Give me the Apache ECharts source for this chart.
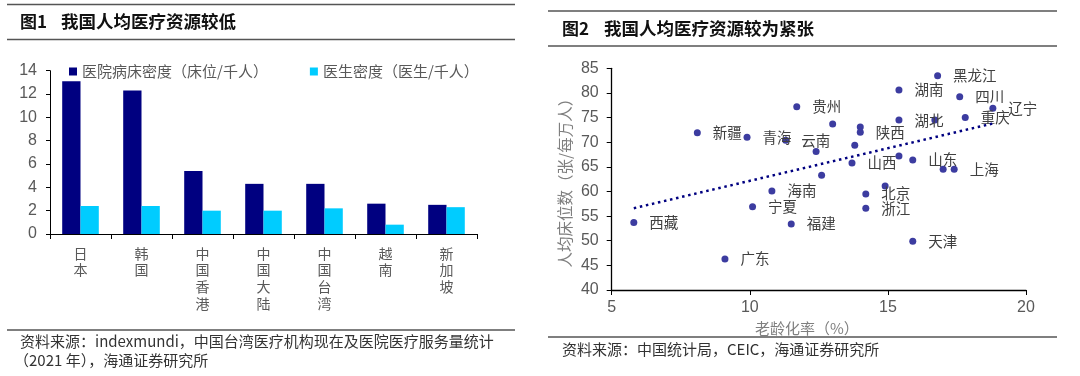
<!DOCTYPE html>
<html>
<head>
<meta charset="utf-8">
<script src="https://cdn.jsdelivr.net/npm/echarts@6/dist/echarts.min.js"></script>
<style>
html,body{margin:0;padding:0;background:#fff;}
#main{width:1080px;height:376px;}
</style>
</head>
<body>
<div id="main"></div>
<script>
// 图1 数据
var countries = ['日本', '韩国', '中国香港', '中国大陆', '中国台湾', '越南', '新加坡'];
var bedDensity = [13.1, 12.3, 5.4, 4.3, 4.3, 2.6, 2.5];     // 床位/千人
var doctorDensity = [2.4, 2.4, 2.0, 2.0, 2.2, 0.8, 2.3];    // 医生/千人

// 图2 数据（空名称的点不标注）
var provinces = ['西藏', '新疆', '青海', '云南', '贵州', '', '', '陕西', '', '', '山西', '', '海南', '宁夏', '福建', '广东',
  '北京', '浙江', '黑龙江', '湖南', '四川', '辽宁', '湖北', '', '重庆', '', '山东', '', '上海', '', '天津'];
var agingRate = [5.8, 8.1, 9.9, 11.3, 11.7, 13.0, 14.0, 14.0, 13.8, 12.4, 13.7, 12.6, 10.8, 10.1, 11.5, 9.1,
  14.2, 14.2, 16.8, 15.4, 17.6, 18.8, 15.4, 16.7, 17.8, 15.4, 15.9, 17.0, 17.4, 14.9, 15.9];
var bedsPer10k = [53.7, 71.9, 71.0, 70.4, 77.2, 73.7, 73.1, 72.0, 69.4, 68.1, 65.8, 63.3, 60.1, 56.9, 53.4, 46.3,
  59.5, 56.6, 83.5, 80.6, 79.2, 76.9, 74.5, 74.5, 75.0, 67.2, 66.4, 64.5, 64.5, 61.1, 49.9];
// 趋势线两端
var trendX = [5.8, 18.8];
var trendY = [56.6, 73.8];

var cjk = '"Noto Sans CJK SC", sans-serif';
var num = '"Liberation Sans", Arial, sans-serif';
var gray = '#595959';

var scatterData = [];
provinces.forEach(function(p, i){
  scatterData.push({name: p, value: [agingRate[i], bedsPer10k[i]]});
});
var trendData = [];
trendX.forEach(function(x, i){ trendData.push([x, trendY[i]]); });

var myChart = echarts.init(document.getElementById('main'), null, {renderer: 'canvas'});
var option = {
  animation: false,
  backgroundColor: '#fff',
  legend: {
    left: 64, top: 59,
    itemWidth: 8, itemHeight: 8, itemGap: 42,
    icon: 'rect',
    textStyle: {fontFamily: cjk, fontSize: 15, color: gray},
    data: ['医院病床密度（床位/千人）', '医生密度（医生/千人）']
  },
  grid: [
    {left: 50, right: 603, top: 70.7, bottom: 142},
    {left: 611.7, right: 54, top: 68.3, bottom: 86}
  ],
  xAxis: [
    {
      gridIndex: 0, type: 'category', data: countries,
      axisLine: {lineStyle: {color: '#000', width: 1}},
      axisTick: {show: true, length: 5, lineStyle: {color: '#000'}},
      axisLabel: {
        margin: 11, fontFamily: cjk, fontSize: 14, color: gray, lineHeight: 16.7,
        formatter: function(v){ return v.split('').join('\n'); }
      }
    },
    {
      gridIndex: 1, type: 'value', min: 5, max: 20, interval: 5,
      name: '老龄化率（%）', nameLocation: 'middle', nameGap: 23,
      nameTextStyle: {fontFamily: cjk, fontSize: 15, color: '#7f7f7f', padding: [0, 24, 0, 0]},
      splitLine: {show: false},
      axisLine: {show: true, lineStyle: {color: '#000', width: 1.3}},
      axisTick: {show: true, length: 5, lineStyle: {color: '#000'}},
      axisLabel: {margin: 10, fontFamily: num, fontSize: 16, color: gray}
    }
  ],
  yAxis: [
    {
      gridIndex: 0, type: 'value', min: 0, max: 14, interval: 2,
      splitLine: {show: false},
      axisLine: {show: true, lineStyle: {color: '#000', width: 1}},
      axisTick: {show: true, length: 4, lineStyle: {color: '#000'}},
      axisLabel: {margin: 13, fontFamily: num, fontSize: 16, color: gray}
    },
    {
      gridIndex: 1, type: 'value', min: 40, max: 85, interval: 5,
      name: '人均床位数（张/每万人）', nameLocation: 'middle', nameGap: 39,
      nameTextStyle: {fontFamily: cjk, fontSize: 15.5, color: '#7f7f7f'},
      splitLine: {show: false},
      axisLine: {show: true, lineStyle: {color: '#000', width: 1.3}},
      axisTick: {show: true, length: 5, lineStyle: {color: '#000'}},
      axisLabel: {margin: 13, fontFamily: num, fontSize: 16, color: gray}
    }
  ],
  series: [
    {
      name: '医院病床密度（床位/千人）', type: 'bar', xAxisIndex: 0, yAxisIndex: 0,
      data: bedDensity, barGap: 0, barCategoryGap: '40%',
      itemStyle: {color: '#000080'}
    },
    {
      name: '医生密度（医生/千人）', type: 'bar', xAxisIndex: 0, yAxisIndex: 0,
      data: doctorDensity, barGap: 0, barCategoryGap: '40%',
      itemStyle: {color: '#00CCFF'}
    },
    {
      name: '趋势', type: 'line', xAxisIndex: 1, yAxisIndex: 1,
      data: trendData, showSymbol: false, symbol: 'none',
      lineStyle: {color: '#000080', width: 2.5, type: [2.5, 3.7]}
    },
    {
      name: '省份', type: 'scatter', xAxisIndex: 1, yAxisIndex: 1,
      data: scatterData, symbolSize: 7,
      itemStyle: {color: '#3C3CA0', opacity: 1},
      label: {
        show: true, position: 'right', distance: 12,
        fontFamily: cjk, fontSize: 14.5, color: '#404040',
        formatter: function(p){ return p.name; }
      }
    }
  ],
  graphic: [
    // 图1 标题与分隔线
    {type: 'line', shape: {x1: 7, y1: 4.5, x2: 515, y2: 4.5}, style: {stroke: '#555', lineWidth: 1.5}},
    {type: 'text', left: 20, top: 13, style: {text: '图1', font: 'bold 17px ' + cjk, fill: '#111'}},
    {type: 'text', left: 61, top: 13, style: {text: '我国人均医疗资源较低', font: 'bold 17.5px ' + cjk, fill: '#111'}},
    {type: 'line', shape: {x1: 7, y1: 39.5, x2: 515, y2: 39.5}, style: {stroke: '#555', lineWidth: 1.5}},
    {type: 'line', shape: {x1: 7, y1: 330, x2: 515, y2: 330}, style: {stroke: '#555', lineWidth: 1.5}},
    {type: 'text', left: 20, top: 334, style: {text: '资料来源：indexmundi，中国台湾医疗机构现在及医院医疗服务量统计', font: '15px ' + cjk, fill: '#333'}},
    {type: 'text', left: 14, top: 353, style: {text: '（2021 年），海通证券研究所', font: '15px ' + cjk, fill: '#333'}},
    // 图2 标题与分隔线
    {type: 'line', shape: {x1: 548, y1: 11, x2: 1057, y2: 11}, style: {stroke: '#555', lineWidth: 1.5}},
    {type: 'text', left: 562, top: 20, style: {text: '图2', font: 'bold 17px ' + cjk, fill: '#111'}},
    {type: 'text', left: 604, top: 20, style: {text: '我国人均医疗资源较为紧张', font: 'bold 17.5px ' + cjk, fill: '#111'}},
    {type: 'line', shape: {x1: 548, y1: 46, x2: 1057, y2: 46}, style: {stroke: '#555', lineWidth: 1.5}},
    {type: 'line', shape: {x1: 548, y1: 337, x2: 1057, y2: 337}, style: {stroke: '#555', lineWidth: 1.5}},
    {type: 'text', left: 562, top: 342, style: {text: '资料来源：中国统计局，CEIC，海通证券研究所', font: '15px ' + cjk, fill: '#333'}}
  ]
};
myChart.setOption(option);
</script>
</body>
</html>
